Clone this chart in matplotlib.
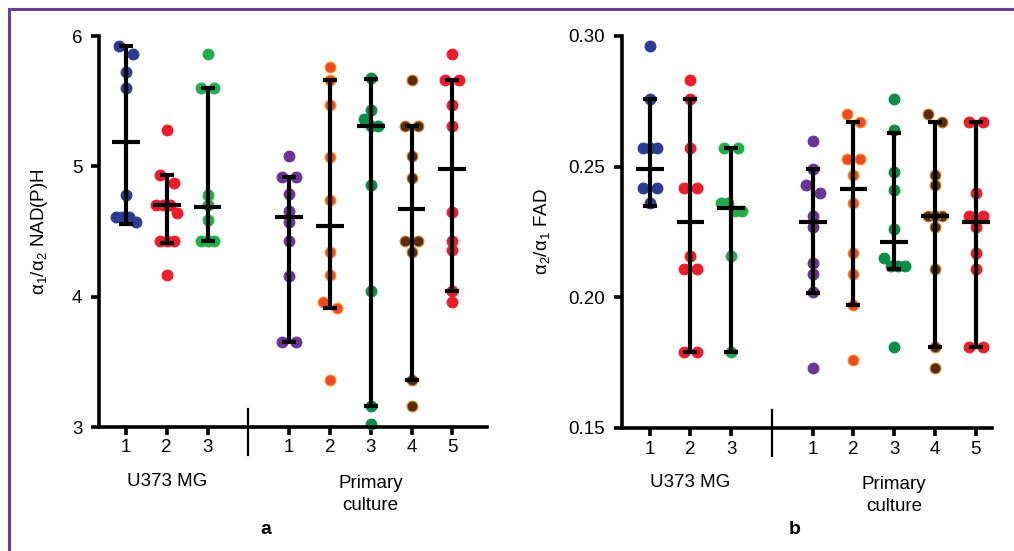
import numpy as np
import matplotlib
matplotlib.use("Agg")
import matplotlib.pyplot as plt
from matplotlib.lines import Line2D

plt.rcParams['font.family'] = ['Liberation Sans', 'DejaVu Sans']
plt.rcParams['mathtext.fontset'] = 'custom'
plt.rcParams['mathtext.rm'] = 'Liberation Sans'
plt.rcParams['mathtext.it'] = 'Liberation Sans'

# --- data ---
tick_labels = ['1', '2', '3', '1', '2', '3', '4', '5']
group_pos = [0, 1, 2, 4, 5, 6, 7, 8]

# panel a: alpha1/alpha2 NAD(P)H
nadh_u1 = [5.92, 5.86, 5.72, 5.60, 4.78, 4.61, 4.61, 4.61, 4.57]
nadh_u2 = [5.28, 4.93, 4.87, 4.70, 4.70, 4.70, 4.64, 4.43, 4.43, 4.43, 4.17]
nadh_u3 = [5.86, 5.60, 5.60, 4.78, 4.70, 4.59, 4.43, 4.43, 4.43]
nadh_p1 = [5.08, 4.92, 4.92, 4.79, 4.66, 4.57, 4.43, 4.16, 3.65, 3.65]
nadh_p2 = [5.76, 5.66, 5.47, 5.07, 4.74, 4.34, 4.17, 3.96, 3.91, 3.36]
nadh_p3 = [5.68, 5.43, 5.36, 5.31, 5.31, 4.86, 4.04, 3.16, 3.02]
nadh_p4 = [5.66, 5.31, 5.31, 5.08, 4.91, 4.43, 4.43, 4.34, 3.36, 3.16]
nadh_p5 = [5.86, 5.66, 5.66, 5.47, 5.31, 4.65, 4.43, 4.36, 4.04, 3.96]
nadh_mid = [5.19, 4.70, 4.69, 4.61, 4.54, 5.31, 4.67, 4.98]
nadh_lo = [4.56, 4.41, 4.43, 3.65, 3.91, 3.16, 3.36, 4.04]
nadh_hi = [5.92, 4.93, 5.60, 4.92, 5.66, 5.67, 5.31, 5.66]

# panel b: alpha2/alpha1 FAD
fad_u1 = [0.296, 0.276, 0.257, 0.257, 0.257, 0.242, 0.242, 0.236]
fad_u2 = [0.283, 0.276, 0.257, 0.242, 0.242, 0.216, 0.211, 0.211, 0.179, 0.179]
fad_u3 = [0.257, 0.257, 0.236, 0.236, 0.233, 0.233, 0.216, 0.179]
fad_p1 = [0.260, 0.249, 0.243, 0.240, 0.231, 0.227, 0.213, 0.209, 0.202, 0.173]
fad_p2 = [0.270, 0.267, 0.253, 0.253, 0.247, 0.236, 0.217, 0.209, 0.197, 0.176]
fad_p3 = [0.276, 0.264, 0.248, 0.241, 0.226, 0.215, 0.212, 0.212, 0.212, 0.181]
fad_p4 = [0.270, 0.267, 0.247, 0.243, 0.231, 0.231, 0.231, 0.227, 0.211, 0.181, 0.173]
fad_p5 = [0.267, 0.267, 0.240, 0.231, 0.231, 0.227, 0.217, 0.211, 0.181, 0.181]
fad_mid = [0.249, 0.229, 0.234, 0.229, 0.2415, 0.221, 0.231, 0.229]
fad_lo = [0.235, 0.179, 0.179, 0.2015, 0.197, 0.211, 0.181, 0.181]
fad_hi = [0.276, 0.276, 0.257, 0.249, 0.267, 0.263, 0.267, 0.267]

face_colors = ['#2B3A93', '#EC1C2B', '#1FAF4B', '#6B3394', '#F04A23', '#0B8C47', '#5B2A10', '#EC1C2B']
edge_colors = ['#2B3A93', '#EC1C2B', '#1FAF4B', '#6B3394', '#F7941D', '#0B8C47', '#C98A2E', '#EC1C2B']


def swarm_offsets(vals, px_per_unit, diam=10):
    """spread points that overlap vertically side by side"""
    vals = np.asarray(vals)
    order = np.argsort(vals)[::-1]
    clusters = []
    for i in order:
        if clusters and abs(vals[i] - vals[clusters[-1][-1]]) * px_per_unit < diam * 0.9:
            clusters[-1].append(i)
        else:
            clusters.append([i])
    off = np.zeros(len(vals))
    for c in clusters:
        n = len(c)
        if n > 1:
            w = 0.17 * max(1, (n - 1) / 2)
            off[c] = np.linspace(-w, w, n)
    return off


def draw_panel(ax, groups, mid, lo, hi, ylim, yticks, yticklabels, ylabel, xlim, ylabelpad):
    ax.set_xlim(*xlim)
    ax.set_ylim(*ylim)
    px_per_unit = 391 / (ylim[1] - ylim[0])
    for k, vals in enumerate(groups):
        x = group_pos[k] + swarm_offsets(vals, px_per_unit)
        ax.scatter(x, vals, s=60, color=face_colors[k], edgecolors=edge_colors[k],
                   linewidths=0.8, zorder=2, clip_on=False)
    mid = np.array(mid)
    ax.errorbar(group_pos, mid, yerr=[mid - np.array(lo), np.array(hi) - mid], fmt='none',
                ecolor='black', elinewidth=3, capsize=5, capthick=3, zorder=3)
    ax.hlines(mid, np.array(group_pos) - 0.34, np.array(group_pos) + 0.34,
              color='black', lw=3, zorder=4)

    for s in ['top', 'right']:
        ax.spines[s].set_visible(False)
    for s in ['left', 'bottom']:
        ax.spines[s].set_linewidth(2.6)
    ax.tick_params(width=2.6, length=6, labelsize=13.5)
    ax.tick_params(axis='y', pad=6)
    ax.tick_params(axis='x', pad=3)
    ax.set_xticks(group_pos)
    ax.set_xticklabels(tick_labels)
    ax.set_yticks(yticks)
    ax.set_yticklabels(yticklabels)
    ax.set_ylabel(ylabel, fontsize=13.5, labelpad=ylabelpad)

    # divider between cell lines
    ax.plot([3, 3], [0.045, -0.072], color='black', lw=1.6,
            transform=ax.get_xaxis_transform(), clip_on=False)
    ax.text(1, -0.14, 'U373 MG', transform=ax.get_xaxis_transform(),
            ha='center', va='center', fontsize=13.5)
    ax.text(6, -0.173, 'Primary\nculture', transform=ax.get_xaxis_transform(),
            ha='center', va='center', fontsize=13.5, linespacing=1.4)


fig = plt.figure(figsize=(10.14, 5.51), dpi=100)

ax_a = fig.add_axes([99 / 1014, 124 / 551, 388 / 1014, 391 / 551])
draw_panel(ax_a, [nadh_u1, nadh_u2, nadh_u3, nadh_p1, nadh_p2, nadh_p3, nadh_p4, nadh_p5],
           nadh_mid, nadh_lo, nadh_hi, (3, 6), [3, 4, 5, 6], ['3', '4', '5', '6'],
           r'α$_1$/α$_2$ NAD(P)H', (-0.66, 8.85), 16)

ax_b = fig.add_axes([622 / 1014, 123 / 551, 370 / 1014, 392 / 551])
draw_panel(ax_b, [fad_u1, fad_u2, fad_u3, fad_p1, fad_p2, fad_p3, fad_p4, fad_p5],
           fad_mid, fad_lo, fad_hi, (0.15, 0.30), [0.15, 0.20, 0.25, 0.30],
           ['0.15', '0.20', '0.25', '0.30'], r'α$_2$/α$_1$ FAD', (-0.68, 8.40), 12)

fig.text(266 / 1014, 1 - 530 / 551, 'a', fontsize=14, fontweight='bold', ha='center', va='center')
fig.text(795 / 1014, 1 - 530 / 551, 'b', fontsize=14, fontweight='bold', ha='center', va='center')

# purple frame (top and left edges)
frame_col = '#6A3E98'
fig.add_artist(Line2D([9 / 1014, 1], [1 - 9 / 551, 1 - 9 / 551], color=frame_col, lw=2.2))
fig.add_artist(Line2D([9 / 1014, 9 / 1014], [0, 1 - 9 / 551], color=frame_col, lw=2.2))

fig.savefig('out.png', dpi=100)
